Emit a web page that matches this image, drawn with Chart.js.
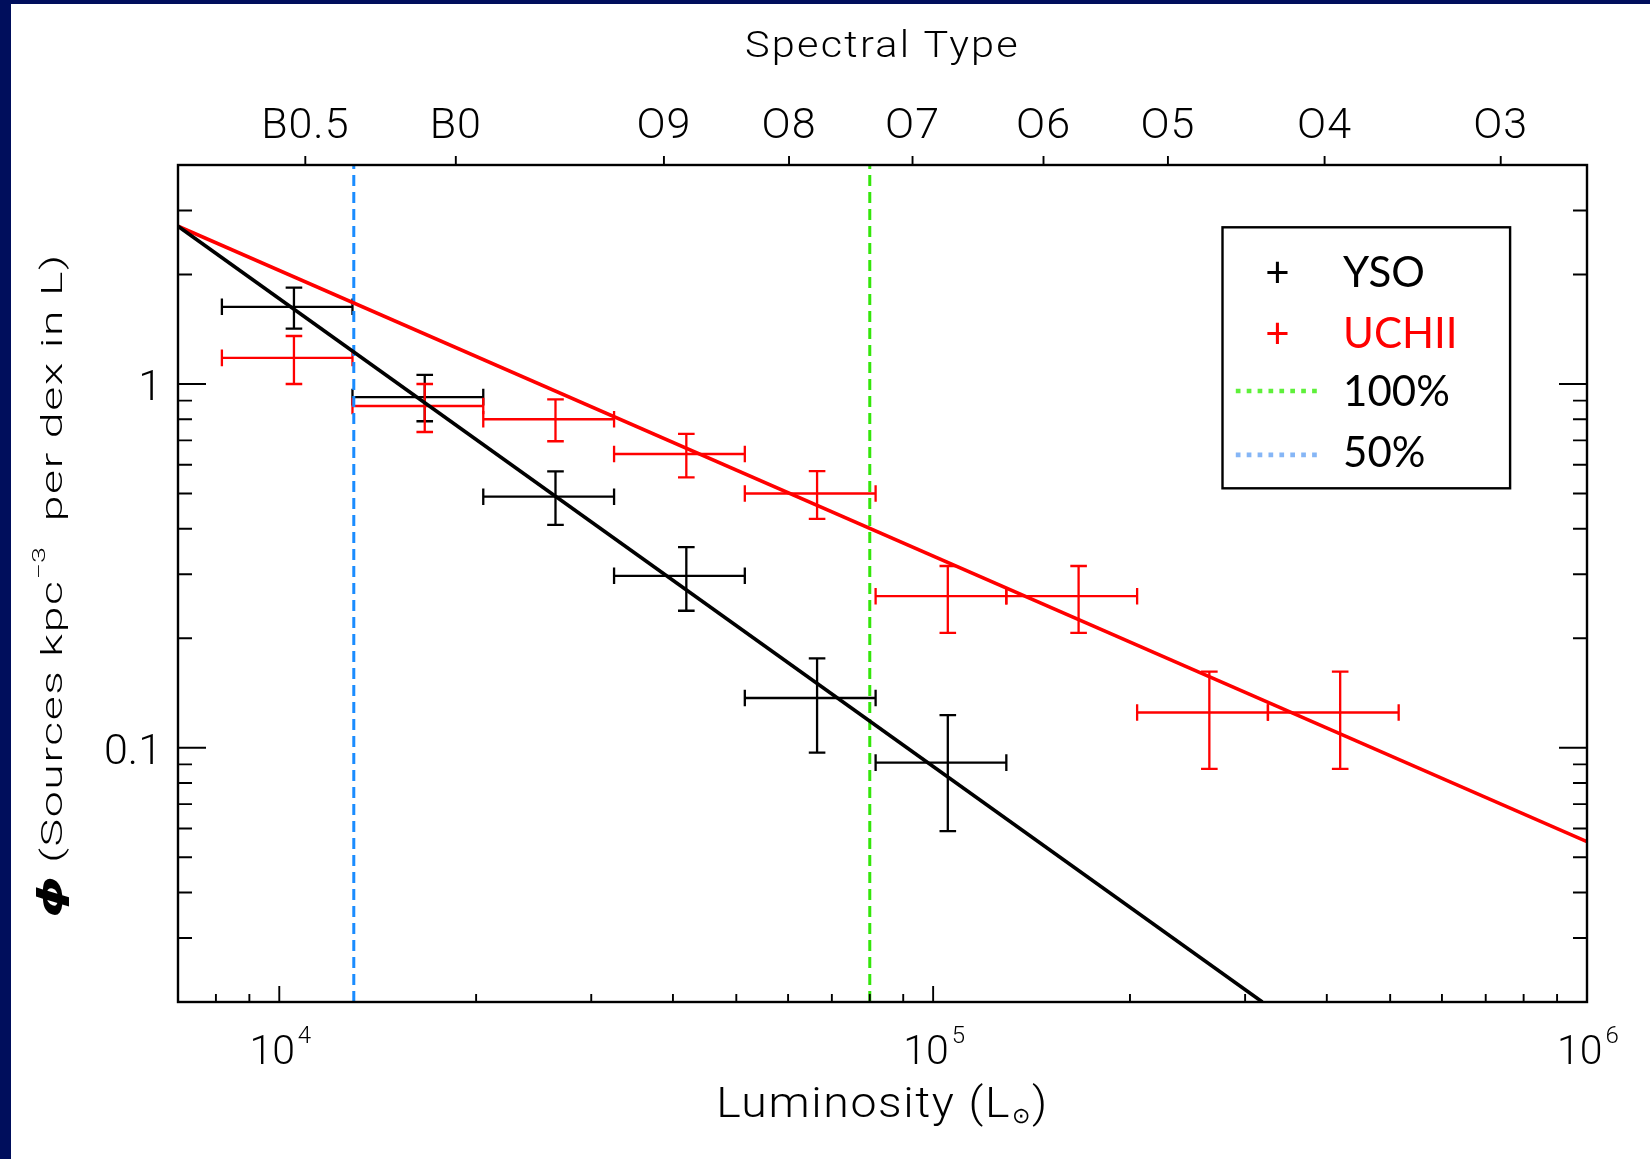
<!DOCTYPE html>
<html>
<head>
<meta charset="utf-8">
<title>YSO and UCHII luminosity functions</title>
<script src="https://cdn.jsdelivr.net/npm/chart.js@4.4.1/dist/chart.umd.min.js"></script>
<style>
  html, body { margin: 0; padding: 0; background: #fff; }
  #wrap { position: relative; width: 1650px; height: 1159px; }
</style>
</head>
<body>
<div id="wrap"><canvas id="lf"></canvas></div>
<script>
// ---- axis limits -------------------------------------------------------
const lumMin = 7000, lumMax = 1e6;      // luminosity (L_sun)
const phiMin = 0.02, phiMax = 4;        // sources kpc^-3 per dex

// ---- luminosity bins (0.2 dex wide) -------------------------------------
const binLo  = [8170, 12940, 20510, 32510, 51520, 81660, 129400, 205100, 325100];
const binHi  = [12940, 20510, 32510, 51520, 81660, 129400, 205100, 325100, 515200];
const binMid = [10530, 16690, 26450, 41930, 66450, 105300, 166900, 264500, 419300];

// ---- YSO luminosity function -------------------------------------------
const ysoPhi   = [1.63, 0.92, 0.49, 0.297, 0.137, 0.091];
const ysoPhiHi = [1.84, 1.06, 0.575, 0.356, 0.176, 0.123];
const ysoPhiLo = [1.42, 0.79, 0.41, 0.238, 0.097, 0.059];

// ---- UCHII luminosity function -----------------------------------------
const uchiiPhi   = [1.18, 0.87, 0.80, 0.642, 0.500, 0.261, 0.261, 0.125, 0.125];
const uchiiPhiHi = [1.355, 1.00, 0.907, 0.729, 0.576, 0.316, 0.316, 0.162, 0.162];
const uchiiPhiLo = [1.00, 0.738, 0.696, 0.554, 0.426, 0.207, 0.207, 0.0875, 0.0875];

// ---- power-law fits (end points) ---------------------------------------
const ysoFitL   = [7000, 318800];
const ysoFitPhi = [2.714, 0.02];
const uchiiFitL   = [7000, 1e6];
const uchiiFitPhi = [2.714, 0.0552];

// ---- completeness limits -------------------------------------------------
const complete100L = 8.0e4;
const complete50L  = 1.3e4;

// ---- spectral type axis --------------------------------------------------
const spectralTypes = ['B0.5', 'B0', 'O9', 'O8', 'O7', 'O6', 'O5', 'O4', 'O3'];
const spectralL     = [10960, 18620, 38750, 60200, 93000, 147500, 228600, 396900, 738000];

// ---- tick labels ---------------------------------------------------------
const lumTickValues    = [1e4, 1e5, 1e6];
const lumTickExponents = ['4', '5', '6'];
const phiTickValues = [1, 0.1];
const phiTickLabels = ['1', '0.1'];

// ---- legend entries --------------------------------------------------------
const legendLabels = ['YSO', 'UCHII', '100%', '50%'];

// ---- styling ---------------------------------------------------------------
const AXIS_FONT = "'Roboto', 'DejaVu Sans', sans-serif";
const KEY_FONT  = "'Lato', 'Open Sans', sans-serif";
const NAVY = '#000e5c';
const RED = '#ff0000';
const GREEN_LINE = '#33e60a', BLUE_LINE = '#1a8cff';
const GREEN_KEY = '#5ef03a', BLUE_KEY = '#86b6f6';

const pts = (xs, ys) => xs.map((x, i) => ({ x: x, y: ys[i] }));

function drawText(ctx, str, x, y, o) {
  ctx.save();
  ctx.font = o.font;
  ctx.fillStyle = o.color || '#000';
  ctx.textBaseline = o.baseline || 'alphabetic';
  ctx.textAlign = 'left';
  if ('letterSpacing' in ctx) ctx.letterSpacing = (o.spacing || 0) + 'px';
  const sx = o.sx || 1;
  const w = ctx.measureText(str).width * sx;
  let left = x;
  if (o.align === 'center') left = x - w / 2;
  else if (o.align === 'right') left = x - w;
  ctx.translate(left, y);
  ctx.scale(sx, 1);
  ctx.fillText(str, 0, 0);
  ctx.restore();
  return w;
}

function measure(ctx, str, font, spacing) {
  ctx.save();
  ctx.font = font;
  if ('letterSpacing' in ctx) ctx.letterSpacing = (spacing || 0) + 'px';
  const w = ctx.measureText(str).width;
  ctx.restore();
  return w;
}

function logTicks(min, max) {
  const out = [];
  for (let e = Math.floor(Math.log10(min)); e <= Math.ceil(Math.log10(max)); e++) {
    for (let m = 1; m <= 9; m++) {
      const v = m * Math.pow(10, e);
      if (v >= min * 0.999 && v <= max * 1.001) out.push({ v: v, major: m === 1 });
    }
  }
  return out;
}

// page background with the navy margin along the top and left
const backgroundPlugin = {
  id: 'pageBackground',
  beforeDraw(chart) {
    const { ctx, width, height } = chart;
    ctx.save();
    ctx.fillStyle = '#fff';
    ctx.fillRect(0, 0, width, height);
    ctx.fillStyle = NAVY;
    ctx.fillRect(0, 0, width, 4);
    ctx.fillRect(0, 0, 11, height);
    ctx.restore();
  }
};

// horizontal (bin width) and vertical (Poisson) error bars
const errorBarPlugin = {
  id: 'errorBars',
  beforeDatasetsDraw(chart) {
    const { ctx, chartArea: ca, scales: { x, y } } = chart;
    ctx.save();
    ctx.beginPath();
    ctx.rect(ca.left, ca.top, ca.right - ca.left, ca.bottom - ca.top);
    ctx.clip();
    const cap = 8.3;
    chart.data.datasets.forEach(ds => {
      if (!ds.errorBars) return;
      const e = ds.errorBars;
      ctx.strokeStyle = ds.borderColor;
      ctx.lineWidth = 2.3;
      ds.data.forEach((p, i) => {
        const px = x.getPixelForValue(p.x), py = y.getPixelForValue(p.y);
        const x0 = x.getPixelForValue(e.xLo[i]), x1 = x.getPixelForValue(e.xHi[i]);
        const y0 = y.getPixelForValue(e.yLo[i]), y1 = y.getPixelForValue(e.yHi[i]);
        ctx.beginPath();
        ctx.moveTo(x0, py); ctx.lineTo(x1, py);
        ctx.moveTo(x0, py - cap); ctx.lineTo(x0, py + cap);
        ctx.moveTo(x1, py - cap); ctx.lineTo(x1, py + cap);
        ctx.moveTo(px, y0); ctx.lineTo(px, y1);
        ctx.moveTo(px - cap, y0); ctx.lineTo(px + cap, y0);
        ctx.moveTo(px - cap, y1); ctx.lineTo(px + cap, y1);
        ctx.stroke();
      });
    });
    ctx.restore();
  }
};

// plot frame, inward ticks, spectral-type axis, labels, titles and key
const framePlugin = {
  id: 'frameAndLabels',
  afterDraw(chart) {
    const { ctx, chartArea: ca, scales: { x, y } } = chart;
    ctx.save();
    ctx.strokeStyle = '#000';

    // frame
    ctx.lineWidth = 2.4;
    ctx.strokeRect(ca.left, ca.top, ca.right - ca.left, ca.bottom - ca.top);

    // luminosity ticks along the bottom, pointing inward
    ctx.lineWidth = 1.9;
    ctx.beginPath();
    logTicks(lumMin, lumMax).forEach(t => {
      const px = x.getPixelForValue(t.v);
      const len = t.major ? 16 : 8;
      ctx.moveTo(px, ca.bottom); ctx.lineTo(px, ca.bottom - len);
    });
    // phi ticks on left and right, pointing inward
    logTicks(phiMin, phiMax).forEach(t => {
      const py = y.getPixelForValue(t.v);
      const len = t.major ? 28 : 14;
      ctx.moveTo(ca.left, py); ctx.lineTo(ca.left + len, py);
      ctx.moveTo(ca.right, py); ctx.lineTo(ca.right - len, py);
    });
    // spectral-type ticks above the top edge
    spectralL.forEach(v => {
      const px = x.getPixelForValue(v);
      ctx.moveTo(px, ca.top); ctx.lineTo(px, ca.top - 9);
    });
    ctx.stroke();

    // spectral-type labels and title
    spectralTypes.forEach((s, i) => {
      drawText(ctx, s, x.getPixelForValue(spectralL[i]), ca.top - 27,
        { font: `300 43px ${AXIS_FONT}`, align: 'center', spacing: 1 });
    });
    const midX = (ca.left + ca.right) / 2;
    drawText(ctx, 'Spectral Type', midX, ca.top - 108,
      { font: `300 37px ${AXIS_FONT}`, align: 'center', spacing: 2, sx: 1.12 });

    // luminosity tick labels 10^n
    lumTickValues.forEach((v, i) => {
      const px = x.getPixelForValue(v);
      const f10 = `300 41px ${AXIS_FONT}`, fExp = `300 24px ${AXIS_FONT}`;
      const w10 = measure(ctx, '10', f10, 0), wExp = measure(ctx, lumTickExponents[i], fExp, 0);
      const total = w10 + 3 + wExp;
      const left = px - total / 2 + 1;
      drawText(ctx, '10', left, ca.bottom + 62, { font: f10 });
      drawText(ctx, lumTickExponents[i], left + w10 + 3, ca.bottom + 41, { font: fExp });
    });

    // luminosity axis title with subscript sun symbol
    {
      const fMain = `300 43px ${AXIS_FONT}`, fSun = `300 22px 'DejaVu Sans', sans-serif`;
      const sx = 1.08, sp = 1.5;
      const a = 'Luminosity (L', b = '\u2299', c = ')';
      const wa = measure(ctx, a, fMain, sp) * sx, wb = measure(ctx, b, fSun, 0), wc = measure(ctx, c, fMain, sp) * sx;
      let left = midX - (wa + wb + 3 + wc) / 2;
      const base = ca.bottom + 115;
      drawText(ctx, a, left, base, { font: fMain, spacing: sp, sx: sx });
      drawText(ctx, b, left + wa + 1, base + 6, { font: fSun });
      drawText(ctx, c, left + wa + wb + 3, base, { font: fMain, spacing: sp, sx: sx });
    }

    // phi tick labels
    phiTickValues.forEach((v, i) => {
      drawText(ctx, phiTickLabels[i], ca.left - 16, y.getPixelForValue(v) + 16,
        { font: `300 43px ${AXIS_FONT}`, align: 'right', spacing: 0 });
    });

    // rotated phi axis title
    {
      const sx = 1.6;
      const fMain = `300 29px ${AXIS_FONT}`, fSup = `300 18px ${AXIS_FONT}`;
      const fPhi = `italic bold 33px 'DejaVu Sans', sans-serif`;
      const pieces = [
        { t: '\u03D5', f: fPhi, dy: 0, sp: 0 },
        { t: ' (Sources kpc', f: fMain, dy: 0, sp: 1 },
        { t: '\u22123', f: fSup, dy: -17, sp: 0 },
        { t: '  per dex in L)', f: fMain, dy: 0, sp: 1 }
      ];
      const widths = pieces.map(p => measure(ctx, p.t, p.f, p.sp) * sx);
      const total = widths.reduce((s, w) => s + w, 0);
      ctx.save();
      ctx.translate(ca.left - 116.5, (ca.top + ca.bottom) / 2 + 2);
      ctx.rotate(-Math.PI / 2);
      let pos = -total / 2;
      pieces.forEach((p, i) => {
        drawText(ctx, p.t, pos, p.dy, { font: p.f, spacing: p.sp, sx: sx });
        pos += widths[i];
      });
      ctx.restore();
    }

    // key box in the upper right corner of the plot
    {
      const bx = ca.right - 364.5, by = ca.top + 62.3, bw = 287.6, bh = 261;
      ctx.fillStyle = '#fff';
      ctx.fillRect(bx, by, bw, bh);
      ctx.lineWidth = 2.4;
      ctx.strokeRect(bx, by, bw, bh);
      const symX = bx + 55, txtX = bx + 120.6;
      const baselines = [59.4, 121, 178.4, 239.4];
      const colors = ['#000', RED, '#000', '#000'];
      const fKey = `400 42px ${KEY_FONT}`;
      legendLabels.forEach((lab, i) => {
        drawText(ctx, lab, txtX, by + baselines[i], { font: fKey, color: colors[i] });
      });
      drawText(ctx, '+', symX, by + baselines[0], { font: fKey, align: 'center', color: '#000' });
      drawText(ctx, '+', symX, by + baselines[1], { font: fKey, align: 'center', color: RED });
      ctx.lineWidth = 4.7;
      ctx.setLineDash([4.7, 6.2]);
      [[GREEN_KEY, 163.7], [BLUE_KEY, 227.5]].forEach(([col, dy]) => {
        ctx.strokeStyle = col;
        ctx.beginPath();
        ctx.moveTo(bx + 13.3, by + dy);
        ctx.lineTo(bx + 96.3, by + dy);
        ctx.stroke();
      });
      ctx.setLineDash([]);
    }
    ctx.restore();
  }
};

new Chart(document.getElementById('lf'), {
  type: 'scatter',
  data: {
    datasets: [
      {
        label: 'YSO',
        data: pts(binMid.slice(0, ysoPhi.length), ysoPhi),
        borderColor: '#000', backgroundColor: '#000',
        pointRadius: 0, showLine: false,
        errorBars: { xLo: binLo, xHi: binHi, yLo: ysoPhiLo, yHi: ysoPhiHi }
      },
      {
        label: 'UCHII',
        data: pts(binMid.slice(0, uchiiPhi.length), uchiiPhi),
        borderColor: RED, backgroundColor: RED,
        pointRadius: 0, showLine: false,
        errorBars: { xLo: binLo, xHi: binHi, yLo: uchiiPhiLo, yHi: uchiiPhiHi }
      },
      {
        label: 'YSO fit',
        data: pts(ysoFitL, ysoFitPhi),
        borderColor: '#000', borderWidth: 3.6,
        pointRadius: 0, showLine: true
      },
      {
        label: 'UCHII fit',
        data: pts(uchiiFitL, uchiiFitPhi),
        borderColor: RED, borderWidth: 3.6,
        pointRadius: 0, showLine: true
      },
      {
        label: '100%',
        data: pts([complete100L, complete100L], [phiMin, phiMax]),
        borderColor: GREEN_LINE, borderWidth: 3, borderDash: [11, 6],
        pointRadius: 0, showLine: true
      },
      {
        label: '50%',
        data: pts([complete50L, complete50L], [phiMin, phiMax]),
        borderColor: BLUE_LINE, borderWidth: 3, borderDash: [11, 6],
        pointRadius: 0, showLine: true
      }
    ]
  },
  options: {
    responsive: true,
    maintainAspectRatio: false,
    animation: false,
    devicePixelRatio: 1,
    layout: { padding: { left: 178, top: 165, right: 63, bottom: 157 } },
    plugins: { legend: { display: false }, tooltip: { enabled: false } },
    scales: {
      x: {
        type: 'logarithmic', min: lumMin, max: lumMax,
        ticks: { display: false },
        grid: { display: false, drawTicks: false },
        border: { display: false },
        title: { display: false }
      },
      y: {
        type: 'logarithmic', min: phiMin, max: phiMax,
        ticks: { display: false },
        grid: { display: false, drawTicks: false },
        border: { display: false },
        title: { display: false }
      }
    }
  },
  plugins: [backgroundPlugin, errorBarPlugin, framePlugin]
});
</script>
</body>
</html>
